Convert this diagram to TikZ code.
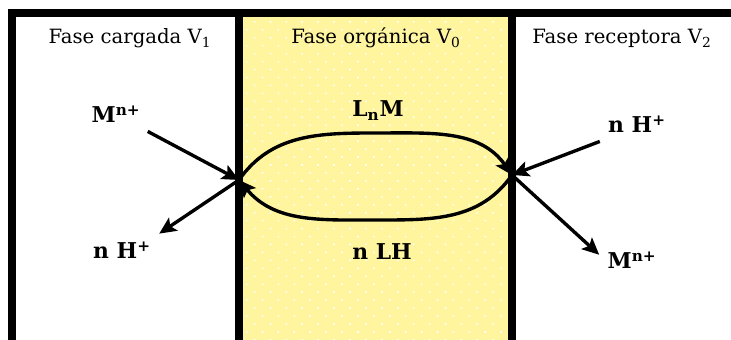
\documentclass[tikz,border=0pt]{standalone}
\usepackage{fontspec}
\setmainfont{DejaVu Serif}
\usetikzlibrary{arrows.meta, patterns.meta}
\definecolor{cyellow}{HTML}{FFF59F}
\tikzset{
  every picture/.style={line width=2pt},
  wall/.style={line width=5pt},
  phase/.style={font=\fontsize{14}{16}\selectfont, anchor=base},
  ion/.style={font=\fontsize{15.5}{18}\selectfont\bfseries, inner sep=5pt, anchor=base},
  flow/.style={-{Stealth[length=12pt, width=11pt, inset=2.5pt]}, line width=2.4pt},
}
\begin{document}
\begin{tikzpicture}[x=0.025cm, y=0.025cm]
  \useasboundingbox (0,0) rectangle (731,340);
  % organic phase with dots
  \fill[cyellow, postaction={pattern={Dots[distance=8pt, angle=45, radius=0.8pt]}, pattern color=white}] (239,0) rectangle (512,327);
  \draw[wall] (12,0) -- (12,327) -- (731,327);
  \draw[wall] (239,0) -- (239,327);
  \draw[wall] (512,0) -- (512,327);
  % phase titles
  \node[phase] (t1) at (130,296) {Fase cargada V\textsubscript{1}};
  \node[phase] (t0) at (376,296) {Fase orgánica V\textsubscript{0}};
  \node[phase] (t2) at (622,296) {Fase receptora V\textsubscript{2}};
  % species
  \node[ion] (mL) at (116,217) {M\textsuperscript{n+}};
  \node[ion] (hL) at (122,81) {n H\textsuperscript{+}};
  \node[ion] (lnm) at (378,223) {L\textsubscript{n}M};
  \node[ion] (nlh) at (382,80) {n LH};
  \node[ion] (hR) at (637,207) {n H\textsuperscript{+}};
  \node[ion] (mR) at (632,71) {M\textsuperscript{n+}};
  \coordinate (il) at (239,160);
  \coordinate (ir) at (512,165);
  \coordinate (arcT) at (376,207);
  \coordinate (arcB) at (376,120);
  \draw[flow] (mL) -- (il);
  \draw[flow] (il) -- (hL.north east);
  \draw[flow] (hR.south west) -- (ir);
  \draw[flow] (ir) -- (mR.170);
  \draw[flow] (il) to[out=55, in=180] (arcT) to[out=0, in=125] (ir);
  \draw[flow] (ir) to[out=-125, in=0] (arcB) to[out=180, in=-50] (il);
\end{tikzpicture}
\end{document}
